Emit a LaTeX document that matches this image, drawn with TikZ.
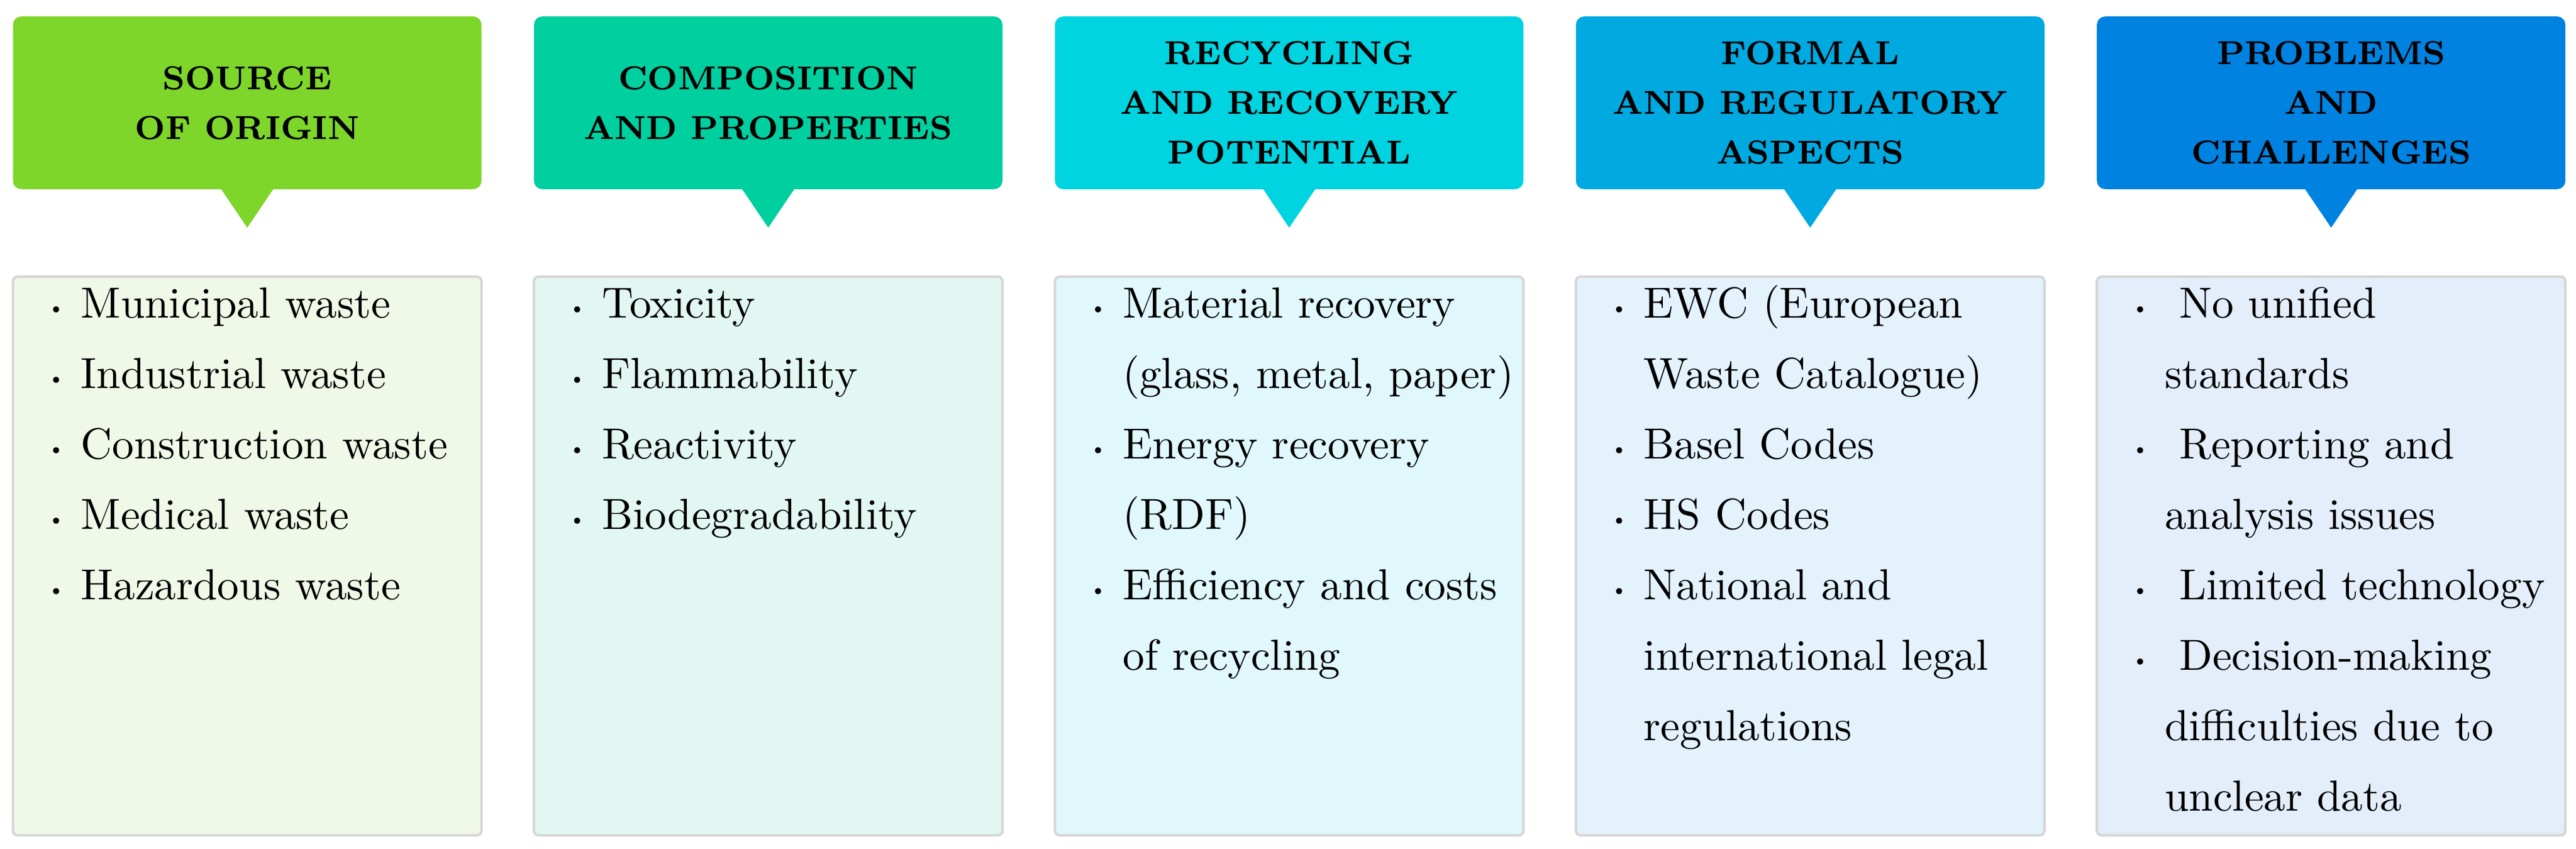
\documentclass[tikz,border=0pt]{standalone}
\usetikzlibrary{positioning}

\definecolor{srccol}{RGB}{126,214,42}
\definecolor{compcol}{RGB}{0,207,160}
\definecolor{recycol}{RGB}{0,212,224}
\definecolor{formcol}{RGB}{0,169,224}
\definecolor{probcol}{RGB}{0,130,224}
\definecolor{srcbg}{RGB}{240,249,232}
\definecolor{compbg}{RGB}{226,247,242}
\definecolor{recybg}{RGB}{224,247,251}
\definecolor{formbg}{RGB}{227,242,251}
\definecolor{probbg}{RGB}{227,238,250}

\newcommand{\blt}{\raisebox{0.9pt}{\tiny\textbullet}}

\begin{document}
\begin{tikzpicture}[
  head/.style={fill=#1, rounded corners=0.07cm, minimum width=3.975cm, minimum height=1.465cm, inner sep=0pt, align=center, font=\fontsize{8}{12}\selectfont\bfseries},
  body/.style={fill=#1, draw=black!16, line width=0.6pt, rounded corners=0.04cm, minimum width=3.975cm, minimum height=4.74cm, inner sep=0pt},
  items/.style={anchor=base west, inner sep=0pt, font=\fontsize{10.5}{17}\selectfont}]

\useasboundingbox[fill=white] (0,0) rectangle (21.855,7.2);

% --- headers ---
\node[head=srccol]  (h1) at (2.0975, 6.3275)  {SOURCE\\OF ORIGIN};
\node[head=compcol] (h2) at (6.5175, 6.3275)  {COMPOSITION\\AND PROPERTIES};
\node[head=recycol] (h3) at (10.9375, 6.3275) {RECYCLING\\AND RECOVERY\\POTENTIAL};
\node[head=formcol] (h4) at (15.3575, 6.3275) {FORMAL\\AND REGULATORY\\ASPECTS};
\node[head=probcol] (h5) at (19.7775, 6.3275) {PROBLEMS\\AND\\CHALLENGES};

% pointers under the headers
\foreach \h/\c in {h1/srccol, h2/compcol, h3/recycol, h4/formcol, h5/probcol}
  \fill[\c] ([xshift=-0.23cm, yshift=0.02cm]\h.south) -- ([xshift=0.23cm, yshift=0.02cm]\h.south) -- ([yshift=-0.32cm]\h.south) -- cycle;

% --- list boxes ---
\node[body=srcbg,  below=0.725cm of h1] (b1) {};
\node[body=compbg, below=0.725cm of h2] (b2) {};
\node[body=recybg, below=0.725cm of h3] (b3) {};
\node[body=formbg, below=0.725cm of h4] (b4) {};
\node[body=probbg, below=0.725cm of h5] (b5) {};

\node[items] (l1) at ([xshift=0.28cm, yshift=-0.36cm]b1.north west) {\begin{tabular}[t]{@{}p{0.30cm}@{}l@{}}
\blt & Municipal waste\\
\blt & Industrial waste\\
\blt & Construction waste\\
\blt & Medical waste\\
\blt & Hazardous waste
\end{tabular}};

\node[items] (l2) at ([xshift=0.28cm, yshift=-0.36cm]b2.north west) {\begin{tabular}[t]{@{}p{0.30cm}@{}l@{}}
\blt & Toxicity\\
\blt & Flammability\\
\blt & Reactivity\\
\blt & Biodegradability
\end{tabular}};

\node[items] (l3) at ([xshift=0.28cm, yshift=-0.36cm]b3.north west) {\begin{tabular}[t]{@{}p{0.30cm}@{}l@{}}
\blt & Material recovery\\
     & (glass, metal, paper)\\
\blt & Energy recovery\\
     & (RDF)\\
\blt & Efficiency and costs\\
     & of recycling
\end{tabular}};

\node[items] (l4) at ([xshift=0.28cm, yshift=-0.36cm]b4.north west) {\begin{tabular}[t]{@{}p{0.30cm}@{}l@{}}
\blt & EWC (European\\
     & Waste Catalogue)\\
\blt & Basel Codes\\
\blt & HS Codes\\
\blt & National and\\
     & international legal\\
     & regulations
\end{tabular}};

\node[items] (l5) at ([xshift=0.28cm, yshift=-0.36cm]b5.north west) {\begin{tabular}[t]{@{}p{0.30cm}@{}l@{}}
\blt & \ No unified\\
     & standards\\
\blt & \ Reporting and\\
     & analysis issues\\
\blt & \ Limited technology\\
\blt & \ Decision-making\\
     & difficulties due to\\
     & unclear data
\end{tabular}};

\end{tikzpicture}
\end{document}
